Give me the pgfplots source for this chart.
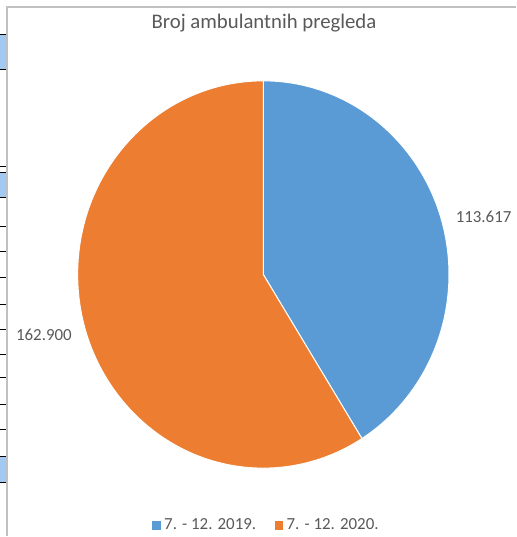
\documentclass[border=0pt]{standalone}
\usepackage{fontspec}
\setmainfont{Carlito}
\usepackage{pgfplots}
\usepackage{pgfplotstable}
\pgfplotsset{compat=1.18}
\definecolor{s19}{HTML}{5B9BD5}
\definecolor{s20}{HTML}{ED7D31}
\definecolor{txtgray}{HTML}{595959}
\definecolor{framegray}{HTML}{C0C0C0}
\definecolor{cellblue}{HTML}{A3C9F2}

% pie data
\pgfplotstableread{
period value
2019 113617
2020 162900
}\piedata

\pgfplotstablegetelem{0}{value}\of\piedata \xdef\va{\pgfplotsretval}
\pgfplotstablegetelem{1}{value}\of\piedata \xdef\vb{\pgfplotsretval}
\xdef\splitang{\fpeval{round(90-360*\va/(\va+\vb),3)}}
\xdef\endang{\fpeval{360+\splitang}}
% centre and radii (the screenshot is slightly stretched vertically)
\def\cx{263.3}\def\cy{262}

\begin{document}
\begin{tikzpicture}
\begin{axis}[
  x=0.75pt, y=0.75pt,
  xmin=0, xmax=516, ymin=0, ymax=537,
  hide axis, clip=false,
  legend style={at={(axis cs:267.5,11)}, anchor=center, draw=none, fill=none,
    legend columns=2, font=\fontsize{12.7}{15}\selectfont, text=txtgray,
    nodes={inner ysep=1pt, inner xsep=3pt},
    /tikz/every even column/.append style={column sep=11pt}},
  legend cell align=left,
]
\path (axis cs:0,0) rectangle (axis cs:516,537);
% leftover table cells at the left edge
\fill[cellblue] (axis cs:0,502) rectangle (axis cs:5.5,467);
\fill[cellblue] (axis cs:0,364) rectangle (axis cs:5.5,339);
\fill[cellblue] (axis cs:0,80) rectangle (axis cs:5.5,54);
\pgfplotsinvokeforeach{502,467,370,364,339,310,285,259,232,207,182,159,132,107,80,54}
  {\draw[black, line width=0.75pt] (axis cs:0,#1) -- (axis cs:5.5,#1);}
\draw[framegray, line width=1.5pt] (axis cs:6.5,0) -- (axis cs:6.5,530) -- (axis cs:516,530);

\fill[s19, draw=white, line width=0.75pt] (axis cs:\cx,\cy) -- (axis cs:\cx,456)
  arc[start angle=90, end angle=\splitang, x radius=139.5pt, y radius=145.5pt] -- cycle;
\fill[s20, draw=white, line width=0.75pt] (axis cs:\cx,\cy) -- (axis cs:\cx,456)
  arc[start angle=90, end angle=\endang, x radius=139.5pt, y radius=145.5pt] -- cycle;

\node[font=\fontsize{15.6}{18}\selectfont, text=txtgray] at (axis cs:264,513.5) {Broj ambulantnih pregleda};
\node[font=\fontsize{12.7}{15}\selectfont, text=txtgray] at (axis cs:484,320) {113.617};
\node[font=\fontsize{12.7}{15}\selectfont, text=txtgray] at (axis cs:43.5,202) {162.900};

\addlegendimage{s19, legend image code/.code={\fill (0pt,-3pt) rectangle (5.5pt,3pt);}}
\addlegendentry{7. - 12. 2019.}
\addlegendimage{s20, legend image code/.code={\fill (0pt,-3pt) rectangle (5.5pt,3pt);}}
\addlegendentry{7. - 12. 2020.}
\end{axis}
\end{tikzpicture}
\end{document}
